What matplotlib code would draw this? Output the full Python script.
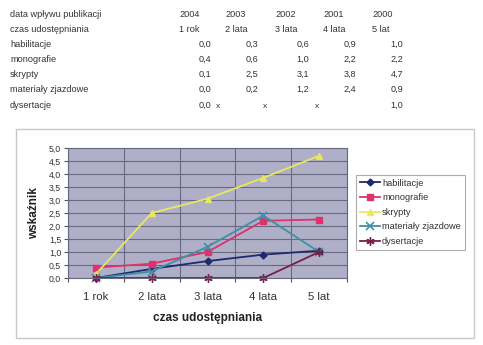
import matplotlib
matplotlib.use("Agg")
import matplotlib.pyplot as plt
from matplotlib.patches import Rectangle

plt.rcParams['font.family'] = ['Liberation Sans', 'DejaVu Sans']

# ---- data ----
years = ["2004", "2003", "2002", "2001", "2000"]
categories = ["1 rok", "2 lata", "3 lata", "4 lata", "5 lat"]
series_names = ["habilitacje", "monografie", "skrypty", "materiały zjazdowe", "dysertacje"]

table_habilitacje = ["0,0", "0,3", "0,6", "0,9", "1,0"]
table_monografie = ["0,4", "0,6", "1,0", "2,2", "2,2"]
table_skrypty = ["0,1", "2,5", "3,1", "3,8", "4,7"]
table_materialy = ["0,0", "0,2", "1,2", "2,4", "0,9"]
table_dysertacje = ["0,0", "", "", "", "1,0"]
table_dys_marks = ["x", "x", "x", "", ""]

habilitacje = [0.0, 0.35, 0.65, 0.9, 1.05]
monografie = [0.4, 0.55, 1.0, 2.2, 2.25]
skrypty = [0.15, 2.5, 3.05, 3.85, 4.7]
materialy = [0.0, 0.25, 1.2, 2.4, 1.0]
dysertacje = [0.0, 0.0, 0.0, 0.0, 1.0]

W, H = 483, 345
fig = plt.figure(figsize=(W / 100, H / 100), dpi=100)
fig.patch.set_facecolor("white")

def fx(x):
    return x / W

def fy(y):
    return 1 - y / H

# ---- table text ----
tcol = "#333333"
tfs = 6.6
row_y = [14, 29, 44, 59, 74, 89, 105]
va = "baseline"
bo = 3.3  # baseline offset in px

def T(x, y, s, **kw):
    fig.text(fx(x), fy(y + bo), s, fontsize=kw.pop("fs", tfs), color=tcol, va=va, **kw)

T(10, row_y[0], "data wpływu publikacji")
T(10, row_y[1], "czas udostępniania")
for i, name in enumerate(series_names):
    T(10, row_y[2 + i], name)

hdr_x = [179, 225, 275, 323, 372]
for x, yr, cat in zip(hdr_x, years, categories):
    T(x, row_y[0], yr)
    T(x, row_y[1], cat)

val_x = [211, 258, 309, 356, 403]
tables = [table_habilitacje, table_monografie, table_skrypty, table_materialy, table_dysertacje]
for r, tab in enumerate(tables):
    for x, v in zip(val_x, tab):
        if v:
            T(x, row_y[2 + r], v, ha="right")
mark_x = [216, 263, 315, 0, 0]
for x, m in zip(mark_x, table_dys_marks):
    if m:
        T(x, row_y[6], m, fs=tfs - 0.5)

# ---- chart frame ----
fig.patches.append(Rectangle((fx(16), fy(338)), fx(474 - 16), (338 - 129) / H,
                             transform=fig.transFigure, fill=False,
                             edgecolor="#c8c8c8", linewidth=1.0))

# ---- axes ----
ax = fig.add_axes([fx(68), fy(278), fx(347 - 68), (278 - 148) / H])
ax.set_facecolor("#afafc8")
x = list(range(len(categories)))

styles = [
    (habilitacje, "#1c2a6e", "D", 3.5, "habilitacje"),
    (monografie, "#e0306e", "s", 5, "monografie"),
    (skrypty, "#e8e860", "^", 5, "skrypty"),
    (materialy, "#3f8fa8", "x", 6, "materiały zjazdowe"),
    (dysertacje, "#7a1e48", (6, 2, 0), 6, "dysertacje"),
]
for vals, col, mk, ms, lab in styles:
    ax.plot(x, vals, color=col, marker=mk, markersize=ms, linewidth=1.3,
            markeredgewidth=1.2 if mk in ("x",) else 1.0, label=lab, clip_on=False)

ax.set_xlim(-0.5, 4.5)
ax.set_ylim(0, 5)
ax.set_yticks([i * 0.5 for i in range(11)])
ax.set_yticklabels([f"{i * 0.5:.1f}".replace(".", ",") for i in range(11)],
                   fontsize=6.3, color="#333333")
ax.set_xticks([i + 0.5 for i in range(-1, 5)], minor=False)
ax.set_xticklabels([])
ax.set_xticks(x, minor=True)
ax.set_xticklabels(categories, minor=True, fontsize=8.2, color="#333333")
ax.tick_params(axis="x", which="minor", length=0, pad=10)
ax.tick_params(axis="x", which="major", length=3, color="#555555")
ax.tick_params(axis="y", length=3, pad=2, color="#555555")
ax.grid(True, axis="both", which="major", color="#686880", linewidth=0.8)
ax.set_axisbelow(True)
for s in ax.spines.values():
    s.set_color("#686880")
    s.set_linewidth(0.8)

ax.set_ylabel("wskaźnik", fontsize=8.5, fontweight="bold", color="#222222", labelpad=6)
ax.set_xlabel("czas udostępniania", fontsize=8.5, fontweight="bold", color="#222222", labelpad=7)

leg = ax.legend(loc="upper left", bbox_to_anchor=(fx(356), fy(175)),
                bbox_transform=fig.transFigure, fontsize=6.7, frameon=True,
                fancybox=False, edgecolor="#999999", borderpad=0.4,
                labelspacing=0.6, handlelength=2.2, handletextpad=0.2,
                borderaxespad=0)
leg.get_frame().set_linewidth(0.8)
for t in leg.get_texts():
    t.set_color("#333333")

fig.savefig("out.png", dpi=100)
